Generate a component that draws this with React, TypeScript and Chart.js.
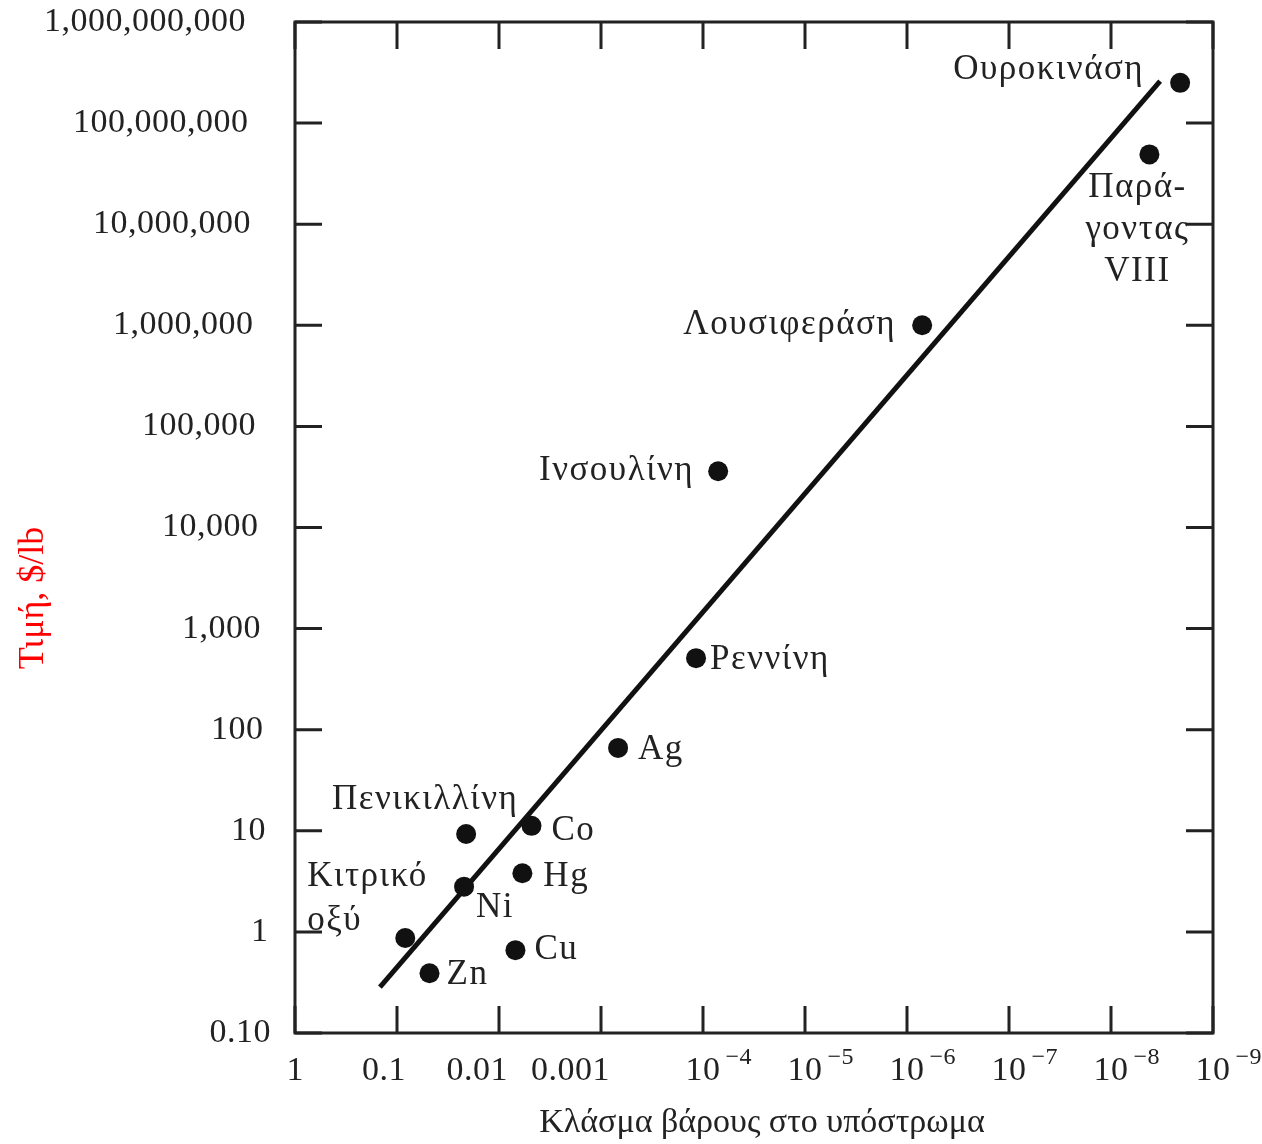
import React, { useEffect, useRef } from 'react';
import { Chart, registerables } from 'chart.js';

Chart.register(...registerables);

// ---- data ----
const pointNames = [
  'Ουροκινάση',
  'Παράγοντας VIII',
  'Λουσιφεράση',
  'Ινσουλίνη',
  'Ρεννίνη',
  'Ag',
  'Co',
  'Πενικιλλίνη',
  'Hg',
  'Ni',
  'Κιτρικό οξύ',
  'Zn',
  'Cu',
];
const weightFraction = [2.1e-9, 4.2e-9, 7.1e-7, 7.1e-5, 1.17e-4, 6.8e-4, 4.8e-3, 0.021, 5.9e-3, 0.022, 0.083, 0.048, 6.9e-3];
const pricePerLb = [2.5e8, 4.9e7, 1.0e6, 3.6e4, 510, 66, 11.2, 9.3, 3.8, 2.8, 0.87, 0.39, 0.66];
const trendX = [0.147, 3.3e-9];
const trendY = [0.285, 2.6e8];

const xTickValues = [1, 0.1, 0.01, 0.001, 1e-4, 1e-5, 1e-6, 1e-7, 1e-8, 1e-9];
const xTickLabels = ['1', '0.1', '0.01', '0.001', '10^−4', '10^−5', '10^−6', '10^−7', '10^−8', '10^−9'];
const yTickValues = [0.1, 1, 10, 100, 1e3, 1e4, 1e5, 1e6, 1e7, 1e8, 1e9];
const yTickLabels = ['0.10', '1', '10', '100', '1,000', '10,000', '100,000', '1,000,000', '10,000,000', '100,000,000', '1,000,000,000'];

const xTitle = 'Κλάσμα βάρους στο υπόστρωμα';
const yTitle = 'Τιμή, $/lb';

// ---- label placement (style, pixel offsets from each point) ----
const labelLayout: { lines: string[]; dx: number; dy: number; align: CanvasTextAlign; lh?: number }[] = [
  { lines: ['Ουροκινάση'], dx: -36, dy: -13, align: 'right' },
  { lines: ['Παρά-', 'γοντας', 'VIII'], dx: -12, dy: 33, align: 'center', lh: 42 },
  { lines: ['Λουσιφεράση'], dx: -26, dy: 0, align: 'right' },
  { lines: ['Ινσουλίνη'], dx: -24, dy: 0, align: 'right' },
  { lines: ['Ρεννίνη'], dx: 14, dy: 2, align: 'left' },
  { lines: ['Ag'], dx: 20, dy: 2, align: 'left' },
  { lines: ['Co'], dx: 20, dy: 5, align: 'left' },
  { lines: ['Πενικιλλίνη'], dx: -41, dy: -34, align: 'center' },
  { lines: ['Hg'], dx: 21, dy: 4, align: 'left' },
  { lines: ['Ni'], dx: 12, dy: 21, align: 'left' },
  { lines: ['Κιτρικό', 'οξύ'], dx: -98, dy: -61, align: 'left', lh: 44 },
  { lines: ['Zn'], dx: 17, dy: 2, align: 'left' },
  { lines: ['Cu'], dx: 19, dy: 0, align: 'left' },
];

const SERIF = '"Liberation Serif", "DejaVu Serif", serif';
const INK = '#222';

const decorPlugin = {
  id: 'decor',
  afterDraw(chart: any) {
    const ctx: any = chart.ctx;
    const { left, right, top, bottom } = chart.chartArea;
    const xs = chart.scales.x;
    const ys = chart.scales.y;
    ctx.save();
    // frame
    ctx.strokeStyle = INK;
    ctx.lineWidth = 3;
    ctx.strokeRect(left, top, right - left, bottom - top);
    // inward ticks
    const tl = 27;
    ctx.beginPath();
    xTickValues.forEach((v) => {
      const px = xs.getPixelForValue(v);
      ctx.moveTo(px, bottom);
      ctx.lineTo(px, bottom - tl);
      ctx.moveTo(px, top);
      ctx.lineTo(px, top + tl);
    });
    yTickValues.forEach((v) => {
      const py = ys.getPixelForValue(v);
      ctx.moveTo(left, py);
      ctx.lineTo(left + tl, py);
      ctx.moveTo(right, py);
      ctx.lineTo(right - tl, py);
    });
    ctx.stroke();

    // y tick labels
    ctx.fillStyle = INK;
    ctx.font = `34px ${SERIF}`;
    ctx.letterSpacing = '0.5px';
    ctx.textBaseline = 'middle';
    ctx.textAlign = 'right';
    yTickValues.forEach((v, i) => {
      const py = ys.getPixelForValue(v);
      const skew = ((py - top) / (bottom - top)) * 25;
      ctx.fillText(yTickLabels[i], left - 49 + skew, py);
    });

    // x tick labels
    const ly = bottom + 38;
    xTickValues.forEach((v, i) => {
      const px = xs.getPixelForValue(v);
      const lab = xTickLabels[i];
      if (lab.includes('^')) {
        const [base, exp] = lab.split('^');
        ctx.font = `34px ${SERIF}`;
        ctx.textAlign = 'center';
        ctx.fillText(base, px, ly);
        const bw = ctx.measureText(base).width;
        ctx.font = `24px ${SERIF}`;
        ctx.textAlign = 'left';
        ctx.fillText(exp, px + bw / 2 + 5, ly - 13);
      } else {
        ctx.font = `34px ${SERIF}`;
        ctx.textAlign = 'right';
        ctx.fillText(lab, px + 9, ly);
      }
    });

    // point labels
    const meta = chart.getDatasetMeta(1);
    ctx.font = `35px ${SERIF}`;
    ctx.letterSpacing = '1.5px';
    ctx.textBaseline = 'middle';
    meta.data.forEach((el: any, i: number) => {
      const lay = labelLayout[i];
      ctx.textAlign = lay.align;
      lay.lines.forEach((line, k) => {
        ctx.fillText(line, el.x + lay.dx, el.y + lay.dy + k * (lay.lh || 40));
      });
    });

    // axis titles
    ctx.letterSpacing = '0px';
    ctx.font = `34px ${SERIF}`;
    ctx.textAlign = 'center';
    ctx.fillStyle = INK;
    ctx.fillText(xTitle, 762, bottom + 90);

    ctx.save();
    ctx.translate(34, 598);
    ctx.rotate(-Math.PI / 2);
    ctx.fillStyle = '#ff0000';
    ctx.font = `36px ${SERIF}`;
    ctx.fillText(yTitle, 0, 0);
    ctx.restore();

    ctx.restore();
  },
};

export default function App() {
  const ref = useRef<HTMLCanvasElement | null>(null);
  useEffect(() => {
    if (!ref.current) return;
    const chart = new Chart(ref.current, {
      type: 'scatter',
      data: {
        datasets: [
          {
            label: 'trend',
            data: trendX.map((x, i) => ({ x, y: trendY[i] })),
            showLine: true,
            borderColor: '#111',
            borderWidth: 5,
            pointRadius: 0,
            clip: false as any,
          },
          {
            label: 'points',
            data: weightFraction.map((x, i) => ({ x, y: pricePerLb[i] })),
            backgroundColor: '#111',
            borderColor: '#111',
            pointRadius: 10,
            borderWidth: 0,
            clip: false as any,
          },
        ],
      },
      options: {
        animation: false,
        responsive: false,
        devicePixelRatio: 1,
        layout: { padding: { left: 295, right: 49, top: 22, bottom: 111 } },
        plugins: { legend: { display: false }, tooltip: { enabled: false } },
        scales: {
          x: { type: 'logarithmic', reverse: true, min: 1e-9, max: 1, display: false },
          y: { type: 'logarithmic', min: 0.1, max: 1e9, display: false },
        },
      },
      plugins: [decorPlugin],
    });
    return () => chart.destroy();
  }, []);
  return (
    <div style={{ position: 'absolute', left: 0, top: 0, width: 1262, height: 1144, background: '#fff' }}>
      <canvas ref={ref} width={1262} height={1144} />
    </div>
  );
}
